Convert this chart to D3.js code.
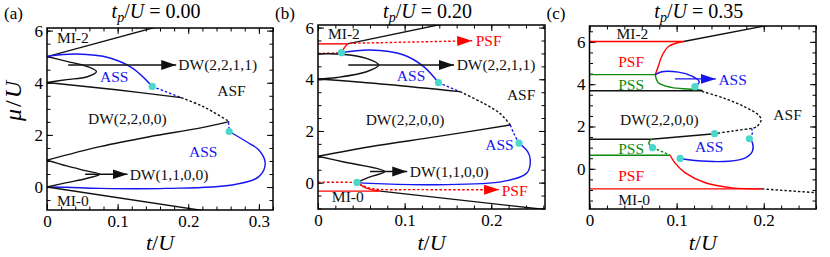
<!DOCTYPE html>
<html>
<head>
<meta charset="utf-8">
<script src="https://cdn.jsdelivr.net/npm/d3@7"></script>
<style>
  body { margin: 0; background: #fff; }
  svg { display: block; }
</style>
</head>
<body>
<svg id="chart" width="830" height="257"></svg>
<script>
// ---- data: points are [t/U, mu/U] ----
const BLACK = '#111', BLUE = '#1515f0', RED = '#f00', GREEN = '#0d8a0d', DOT = '#4ad8cc';
const FONT = "'Liberation Serif', 'Times New Roman', serif";

// panel (a) tp/U = 0.00
const aMI2 = [[0, 5], [0.17, 6.25]];
const aLobeTop = [[0, 5.01], [0.028, 4.82], [0.056, 4.63], [0.07, 4.43], [0.056, 4.22], [0.028, 4.12], [0, 4.01]];
const aBlueTop = [[0, 5.01], [0.042, 5.1], [0.089, 4.95], [0.121, 4.56], [0.149, 3.86]];
const aBlueDash1 = [[0.149, 3.86], [0.19, 3.43]];
const aBlackMid = [[0, 4.01], [0.098, 3.73], [0.19, 3.43]];
const aBlackDash = [[0.19, 3.43], [0.216, 3.15], [0.234, 2.9], [0.258, 2.51]];
const aBlackLow = [[0, 1.03], [0.075, 1.55], [0.145, 1.93], [0.216, 2.26], [0.258, 2.51]];
const aBlueDash2 = [[0.257, 2.48], [0.258, 2.13]];
const aBlueLow = [[0.258, 2.13], [0.286, 1.68], [0.3, 1.42], [0.309, 0.91], [0.3, 0.4], [0.262, 0.08], [0.169, -0.05], [0.075, -0.05], [0.028, -0.01], [0, 0]];
const aLobeLow = [[0, 1.03], [0.028, 0.81], [0.056, 0.62], [0.075, 0.49], [0.056, 0.33], [0.028, 0.17], [0, 0]];
const aMI0 = [[0, 0], [0.245, -1.0]];
const aArrows = [[[0.03, 4.68], [0.183, 4.68]], [[0.054, 0.49], [0.114, 0.49]]];
const aDots = [[0.149, 3.86], [0.258, 2.13]];
const aLabels = [
  ['MI-2', 0.014, 5.73, BLACK], ['MI-0', 0.014, -0.5, BLACK], ['ASS', 0.075, 4.22, BLUE],
  ['ASF', 0.241, 3.69, BLACK], ['DW(2,2,0,0)', 0.058, 2.61, BLACK], ['ASS', 0.201, 1.35, BLUE],
  ['DW(2,2,1,1)', 0.186, 4.68, BLACK], ['DW(1,1,0,0)', 0.117, 0.49, BLACK]
];

// panel (b) tp/U = 0.20
const bMI2 = [[0.034, 5.37], [0.15, 6.18]];
const bRedTopH = [[0, 5.37], [0.034, 5.37]];
const bRedTopC = [[0.034, 5.37], [0.03, 5.2], [0.027, 5.04]];
const bRedDash1 = [[0, 5.0], [0.027, 5.02]];
const bPsfTop = [[0.036, 5.39], [0.178, 5.49]];
const bLobeTop = [[0, 4.98], [0.027, 4.97], [0.056, 4.81], [0.07, 4.55], [0.056, 4.29], [0.022, 4.07], [0, 4.01]];
const bBlueTop = [[0.027, 5.03], [0.06, 5.13], [0.099, 4.94], [0.122, 4.49], [0.139, 3.87]];
const bBlueDash1 = [[0.139, 3.87], [0.164, 3.52]];
const bBlackMid = [[0, 4.01], [0.08, 3.8], [0.164, 3.52]];
const bBlackDash = [[0.164, 3.52], [0.191, 3.07], [0.21, 2.68], [0.222, 2.23]];
const bBlackLow = [[0, 1.02], [0.06, 1.39], [0.137, 1.78], [0.222, 2.23]];
const bBlueDash2 = [[0.222, 2.23], [0.226, 1.9], [0.232, 1.53]];
const bBlueLow = [[0.232, 1.53], [0.242, 1.2], [0.245, 0.89], [0.241, 0.37], [0.214, 0.05], [0.137, -0.08], [0.06, -0.03], [0.045, 0.01]];
const bLobeLow = [[0, 1.02], [0.03, 0.8], [0.077, 0.43], [0.06, 0.22], [0.045, 0.01]];
const bRedDash2 = [[0, 0.02], [0.045, 0.01]];
const bRedLowH = [[0, -0.33], [0.072, -0.33]];
const bRedLowC = [[0.045, 0.01], [0.055, -0.2], [0.072, -0.33]];
const bPsfLow = [[0.048, -0.05], [0.06, -0.22], [0.12, -0.27], [0.209, -0.27]];
const bMI0 = [[0.072, -0.33], [0.27, -1.07]];
const bArrows = [[[0.035, 4.55], [0.157, 4.55]], [[0.06, 0.43], [0.103, 0.43]]];
const bDots = [[0.027, 5.03], [0.139, 3.87], [0.232, 1.53], [0.045, 0.01]];
const bLabels = [
  ['MI-2', 0.0115, 5.78, BLACK], ['ASS', 0.091, 4.13, BLUE], ['ASF', 0.218, 3.39, BLACK],
  ['DW(2,2,0,0)', 0.055, 2.45, BLACK], ['ASS', 0.193, 1.49, BLUE], ['MI-0', 0.016, -0.52, BLACK],
  ['DW(2,2,1,1)', 0.16, 4.55, BLACK], ['DW(1,1,0,0)', 0.106, 0.43, BLACK],
  ['PSF', 0.182, 5.49, RED], ['PSF', 0.212, -0.3, RED]
];

// panel (c) tp/U = 0.35
const cRedTopH = [[0, 6.02], [0.108, 6.02]];
const cMI2 = [[0.108, 6.02], [0.22, 6.9]];
const cRedTopC = [[0.108, 6.02], [0.091, 5.79], [0.083, 5.32], [0.079, 4.85], [0.0755, 4.45]];
const cGreenTopH = [[0, 4.45], [0.0755, 4.45]];
const cGreenTopC = [[0.0755, 4.45], [0.079, 4.07], [0.094, 3.85], [0.113, 3.77], [0.129, 3.72]];
const cBlackTopH = [[0, 3.69], [0.13, 3.69]];
const cBlueTop = [[0.0755, 4.45], [0.083, 4.59], [0.102, 4.57], [0.117, 4.39], [0.126, 4.12], [0.121, 3.88]];
const cBlackDash1 = [[0.129, 3.66], [0.155, 3.33], [0.178, 2.93], [0.194, 2.54], [0.197, 2.31], [0.192, 1.99], [0.186, 1.91]];
const cBlackDash2 = [[0.186, 1.91], [0.165, 1.79], [0.1436, 1.66]];
const cBlackLowH = [[0, 1.4], [0.071, 1.4]];
const cBlackLowR = [[0.071, 1.4], [0.1436, 1.66]];
const cGreenMid = [[0.071, 1.4], [0.068, 1.22], [0.0723, 1.0]];
const cGreenDash = [[0.0723, 1.0], [0.085, 0.78], [0.0926, 0.64]];
const cGreenLowH = [[0, 0.64], [0.0926, 0.64]];
const cBlueLow = [[0.104, 0.49], [0.121, 0.39], [0.16, 0.36], [0.179, 0.52], [0.187, 0.83], [0.187, 1.23], [0.1835, 1.42]];
const cBlueDash = [[0.1835, 1.42], [0.187, 1.7], [0.186, 1.91]];
const cRedLowC = [[0.0926, 0.64], [0.098, 0.28], [0.11, -0.19], [0.133, -0.66], [0.164, -0.9], [0.198, -0.95]];
const cRedLowH = [[0, -0.95], [0.198, -0.95]];
const cBlackDash3 = [[0.198, -0.95], [0.26, -1.13]];
const cArrows = [[[0.098, 4.25], [0.145, 4.25]]];
const cDots = [[0.121, 3.88], [0.1436, 1.66], [0.0723, 1.0], [0.1835, 1.42], [0.104, 0.49]];
const cLabels = [
  ['MI-2', 0.031, 6.4, BLACK], ['PSF', 0.033, 5.06, RED], ['PSS', 0.033, 3.96, GREEN],
  ['DW(2,2,0,0)', 0.035, 2.35, BLACK], ['ASF', 0.211, 2.54, BLACK], ['PSS', 0.033, 0.94, GREEN],
  ['ASS', 0.121, 1.04, BLUE], ['PSF', 0.033, -0.33, RED], ['MI-0', 0.033, -1.44, BLACK],
  ['ASS', 0.148, 4.22, BLUE]
];

const xMajor = [0, 0.1, 0.2, 0.3];
const yMajor = [0, 2, 4, 6];

const panels = [
  {
    tag: '(a)', tp: '0.00', box: [47, 28, 273, 210], xDom: [0, 0.32], yDom: [-0.88, 6.1],
    curves: [
      [aMI2, BLACK], [aLobeTop, BLACK], [aBlueTop, BLUE], [aBlueDash1, BLUE, 1],
      [aBlackMid, BLACK], [aBlackDash, BLACK, 1], [aBlackLow, BLACK], [aBlueDash2, BLUE, 1],
      [aBlueLow, BLUE], [aLobeLow, BLACK], [aMI0, BLACK]
    ],
    arrows: aArrows.map(a => [a, BLACK, 0]), dots: aDots, labels: aLabels, yLabel: true
  },
  {
    tag: '(b)', tp: '0.20', box: [318, 25, 545, 209], xDom: [0, 0.262], yDom: [-1.02, 6.1],
    curves: [
      [bMI2, BLACK], [bRedTopH, RED], [bRedTopC, RED], [bRedDash1, RED, 1],
      [bLobeTop, BLACK], [bBlueTop, BLUE], [bBlueDash1, BLUE, 1], [bBlackMid, BLACK],
      [bBlackDash, BLACK, 1], [bBlackLow, BLACK], [bBlueDash2, BLUE, 1], [bBlueLow, BLUE],
      [bLobeLow, BLACK], [bRedDash2, RED, 1], [bRedLowH, RED], [bRedLowC, RED], [bMI0, BLACK]
    ],
    arrows: bArrows.map(a => [a, BLACK, 0]).concat([[bPsfTop, RED, 1], [bPsfLow, RED, 1]]),
    dots: bDots, labels: bLabels
  },
  {
    tag: '(c)', tp: '0.35', box: [589.5, 26, 816, 209], xDom: [0, 0.26], yDom: [-1.9, 6.75],
    curves: [
      [cRedTopH, RED], [cMI2, BLACK], [cRedTopC, RED], [cGreenTopH, GREEN], [cGreenTopC, GREEN],
      [cBlackTopH, BLACK], [cBlueTop, BLUE], [cBlackDash1, BLACK, 1], [cBlackDash2, BLACK, 1],
      [cBlackLowH, BLACK], [cBlackLowR, BLACK], [cGreenMid, GREEN], [cGreenDash, GREEN, 1],
      [cGreenLowH, GREEN], [cBlueLow, BLUE], [cBlueDash, BLUE, 1], [cRedLowC, RED],
      [cRedLowH, RED], [cBlackDash3, BLACK, 1]
    ],
    arrows: cArrows.map(a => [a, BLUE, 0]), dots: cDots, labels: cLabels
  }
];

const svg = d3.select('#chart');
const defs = svg.append('defs');

// arrow heads, one per colour
[['k', BLACK], ['b', BLUE], ['r', RED]].forEach(([id, col]) => {
  defs.append('marker')
    .attr('id', 'arr-' + id)
    .attr('markerUnits', 'userSpaceOnUse')
    .attr('viewBox', '-15 -6 15 12')
    .attr('refX', 0).attr('refY', 0)
    .attr('markerWidth', 15).attr('markerHeight', 12)
    .attr('orient', 'auto')
    .append('path')
    .attr('d', 'M-15,-5L0,0L-15,5Z')
    .attr('fill', col);
});
const markerFor = col => col === BLUE ? 'url(#arr-b)' : col === RED ? 'url(#arr-r)' : 'url(#arr-k)';

function minorTicks(lo, hi, step) {
  return d3.range(Math.ceil(lo / step), Math.floor(hi / step) + 1).map(i => +(i * step).toFixed(4));
}

panels.forEach((p, i) => {
  const [x0, y0, x1, y1] = p.box;
  const x = d3.scaleLinear().domain(p.xDom).range([x0, x1]);
  const y = d3.scaleLinear().domain(p.yDom).range([y1, y0]);
  const g = svg.append('g');

  defs.append('clipPath').attr('id', 'clip' + i)
    .append('rect').attr('x', x0).attr('y', y0).attr('width', x1 - x0).attr('height', y1 - y0);

  const xMin = minorTicks(p.xDom[0], p.xDom[1], 0.02);
  const yMin = minorTicks(p.yDom[0], p.yDom[1], 0.5);
  const xMaj = xMajor.filter(v => v <= p.xDom[1]);
  const yMaj = yMajor.filter(v => v <= p.yDom[1]);

  // inward ticks on all four sides
  const makers = [() => d3.axisBottom(x), () => d3.axisTop(x), () => d3.axisLeft(y), () => d3.axisRight(y)];
  const spots = [[0, y1], [0, y0], [x0, 0], [x1, 0]];
  makers.forEach((mk, k) => {
    const isX = k < 2, withText = k === 0 || k === 2;
    const [tx, ty] = spots[k];
    g.append('g').attr('transform', `translate(${tx},${ty})`)
      .call(mk().tickValues(isX ? xMin : yMin).tickSize(-3.5).tickFormat(''))
      .call(s => s.select('.domain').remove());
    g.append('g').attr('transform', `translate(${tx},${ty})`)
      .call(mk().tickValues(isX ? xMaj : yMaj).tickSize(-6).tickPadding(isX ? 5 : 4)
        .tickFormat(withText ? (d => (isX ? (d === 0 ? '0' : d3.format('.1f')(d)) : d3.format('d')(d))) : ''))
      .call(s => s.select('.domain').remove());
  });
  g.selectAll('.tick line').attr('stroke', '#000').attr('stroke-width', 1);
  g.selectAll('.tick text').attr('fill', '#000').style('font-size', '17px');

  const line = d3.line().x(d => x(d[0])).y(d => y(d[1])).curve(d3.curveCatmullRom.alpha(0.5));
  const plot = g.append('g').attr('clip-path', `url(#clip${i})`);

  plot.selectAll('path.c').data(p.curves).join('path')
    .attr('class', 'c')
    .attr('d', d => line(d[0]))
    .attr('fill', 'none')
    .attr('stroke', d => d[1])
    .attr('stroke-width', 1.4)
    .attr('stroke-dasharray', d => d[2] ? '2.5,2' : null);

  g.selectAll('path.arr').data(p.arrows).join('path')
    .attr('class', 'arr')
    .attr('d', d => line(d[0]))
    .attr('fill', 'none')
    .attr('stroke', d => d[1])
    .attr('stroke-width', 1.4)
    .attr('stroke-dasharray', d => d[2] ? '2.5,2' : null)
    .attr('marker-end', d => markerFor(d[1]));

  g.selectAll('circle').data(p.dots).join('circle')
    .attr('cx', d => x(d[0])).attr('cy', d => y(d[1])).attr('r', 3.6)
    .attr('fill', DOT);

  g.selectAll('text.lab').data(p.labels).join('text')
    .attr('class', 'lab')
    .attr('x', d => x(d[1])).attr('y', d => y(d[2])).attr('dy', '0.35em')
    .attr('fill', d => d[3])
    .style('font-size', '15.5px')
    .text(d => d[0]);

  g.append('rect').attr('x', x0).attr('y', y0).attr('width', x1 - x0).attr('height', y1 - y0)
    .attr('fill', 'none').attr('stroke', '#000').attr('stroke-width', 1.5);

  // panel tag and title
  g.append('text').attr('x', x0 - 43).attr('y', 19).style('font-size', '17px').text(p.tag);
  const cx = (x0 + x1) / 2;
  const title = g.append('text').attr('x', cx - 4).attr('y', 18).attr('text-anchor', 'middle').style('font-size', '20px');
  title.append('tspan').style('font-style', 'italic').text('t');
  title.append('tspan').style('font-style', 'italic').style('font-size', '14px').attr('dy', 4).text('p');
  title.append('tspan').attr('dy', -4).text('/');
  title.append('tspan').style('font-style', 'italic').text('U');
  title.append('tspan').text(' = ' + p.tp);

  const xl = g.append('text').attr('x', cx).attr('y', 250).attr('text-anchor', 'middle').style('font-size', '22px');
  xl.append('tspan').style('font-style', 'italic').text('t');
  xl.append('tspan').text('/');
  xl.append('tspan').style('font-style', 'italic').text('U');

  if (p.yLabel) {
    const yl = g.append('text').attr('transform', 'translate(21,100) rotate(-90)')
      .attr('text-anchor', 'middle').style('font-size', '24px').style('letter-spacing', '2px');
    yl.append('tspan').style('font-style', 'italic').text('μ');
    yl.append('tspan').text('/');
    yl.append('tspan').style('font-style', 'italic').text('U');
  }
});

// every text in the serif face
svg.selectAll('text').style('font-family', FONT);
</script>
</body>
</html>
